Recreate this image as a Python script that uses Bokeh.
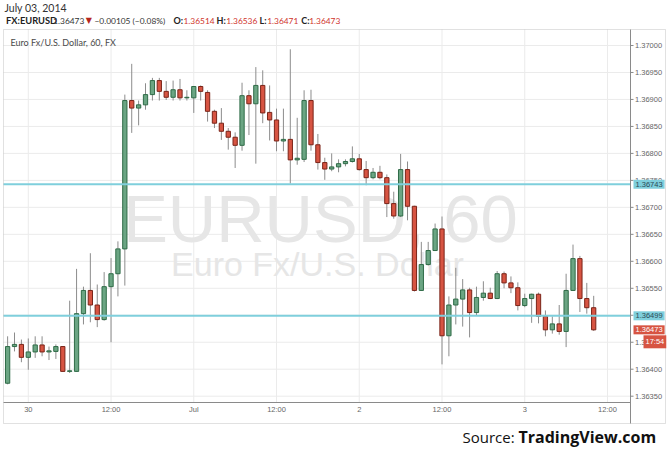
from bokeh.plotting import figure
from bokeh.models import Range1d, Label, BoxAnnotation, ColumnDataSource
from bokeh.core.properties import value
from bokeh.embed import file_html
from bokeh.resources import INLINE

# ---------------- data ----------------
hours = list(range(-3, 83))  # hours from Jun 30 00:00
opens = [1.36374, 1.36442, 1.36446, 1.36422, 1.36432, 1.36445, 1.36432, 1.36433, 1.36442, 1.36396,
         1.36396, 1.36503, 1.36546, 1.36519, 1.36492, 1.36553, 1.36577, 1.36623, 1.36898, 1.36884,
         1.36890, 1.36909, 1.36935, 1.36915, 1.36904, 1.36918, 1.36903, 1.36903, 1.36924, 1.36913,
         1.36878, 1.36856, 1.36841, 1.36830, 1.36815, 1.36907, 1.36892, 1.36926, 1.36876, 1.36862,
         1.36823, 1.36826, 1.36788, 1.36789, 1.36898, 1.36816, 1.36783, 1.36771, 1.36775, 1.36781,
         1.36785, 1.36790, 1.36770, 1.36755, 1.36765, 1.36755, 1.36707, 1.36684, 1.36770, 1.36702,
         1.36546, 1.36594, 1.36620, 1.36660, 1.36462, 1.36519, 1.36530, 1.36547, 1.36505, 1.36533,
         1.36541, 1.36531, 1.36577, 1.36560, 1.36551, 1.36518, 1.36531, 1.36539, 1.36498, 1.36473,
         1.36484, 1.36470, 1.36546, 1.36605, 1.36531, 1.36514]
highs = [1.36461, 1.36468, 1.36455, 1.36457, 1.36461, 1.36461, 1.36442, 1.36446, 1.36443, 1.36527,
         1.36586, 1.36553, 1.36615, 1.36557, 1.36580, 1.36606, 1.36637, 1.36909, 1.36966, 1.36898,
         1.36930, 1.36940, 1.36940, 1.36934, 1.36935, 1.36938, 1.36917, 1.36925, 1.36926, 1.36917,
         1.36881, 1.36884, 1.36847, 1.36839, 1.36931, 1.36917, 1.36960, 1.36954, 1.36926, 1.36883,
         1.36883, 1.36993, 1.36866, 1.36917, 1.36918, 1.36836, 1.36792, 1.36800, 1.36789, 1.36789,
         1.36813, 1.36799, 1.36786, 1.36773, 1.36777, 1.36761, 1.36729, 1.36799, 1.36785, 1.36703,
         1.36636, 1.36636, 1.36670, 1.36683, 1.36535, 1.36588, 1.36567, 1.36551, 1.36553, 1.36563,
         1.36551, 1.36582, 1.36581, 1.36572, 1.36561, 1.36540, 1.36540, 1.36542, 1.36509, 1.36498,
         1.36519, 1.36577, 1.36631, 1.36610, 1.36560, 1.36536]
lows = [1.36372, 1.36433, 1.36413, 1.36399, 1.36421, 1.36424, 1.36417, 1.36419, 1.36395, 1.36393,
        1.36395, 1.36483, 1.36487, 1.36478, 1.36490, 1.36450, 1.36535, 1.36555, 1.36838, 1.36852,
        1.36881, 1.36898, 1.36898, 1.36899, 1.36898, 1.36898, 1.36898, 1.36875, 1.36898, 1.36859,
        1.36847, 1.36825, 1.36807, 1.36773, 1.36805, 1.36834, 1.36781, 1.36856, 1.36824, 1.36804,
        1.36804, 1.36744, 1.36779, 1.36784, 1.36805, 1.36770, 1.36751, 1.36767, 1.36765, 1.36776,
        1.36783, 1.36768, 1.36741, 1.36752, 1.36752, 1.36682, 1.36679, 1.36682, 1.36676, 1.36544,
        1.36545, 1.36592, 1.36619, 1.36409, 1.36424, 1.36483, 1.36479, 1.36459, 1.36500, 1.36527,
        1.36530, 1.36530, 1.36550, 1.36541, 1.36509, 1.36515, 1.36486, 1.36485, 1.36461, 1.36466,
        1.36464, 1.36441, 1.36545, 1.36506, 1.36503, 1.36471]
closes = [1.36442, 1.36446, 1.36422, 1.36432, 1.36445, 1.36432, 1.36434, 1.36442, 1.36396, 1.36397,
          1.36503, 1.36546, 1.36519, 1.36492, 1.36553, 1.36577, 1.36623, 1.36898, 1.36884, 1.36890,
          1.36909, 1.36935, 1.36915, 1.36904, 1.36918, 1.36903, 1.36904, 1.36924, 1.36915, 1.36878,
          1.36856, 1.36841, 1.36830, 1.36815, 1.36907, 1.36892, 1.36926, 1.36875, 1.36862, 1.36823,
          1.36826, 1.36788, 1.36791, 1.36898, 1.36816, 1.36783, 1.36771, 1.36775, 1.36781, 1.36785,
          1.36790, 1.36770, 1.36755, 1.36765, 1.36755, 1.36707, 1.36684, 1.36770, 1.36702, 1.36546,
          1.36594, 1.36620, 1.36660, 1.36462, 1.36519, 1.36530, 1.36547, 1.36505, 1.36533, 1.36541,
          1.36531, 1.36577, 1.36560, 1.36551, 1.36518, 1.36531, 1.36539, 1.36498, 1.36473, 1.36484,
          1.36470, 1.36546, 1.36605, 1.36531, 1.36514, 1.36473]

x_tick_pos = [0, 12, 24, 36, 48, 60, 72, 84]
x_tick_labels = ["30", "12:00", "Jul", "12:00", "2", "12:00", "3", "12:00"]
y_ticks = [1.3635, 1.3640, 1.3645, 1.3650, 1.3655, 1.3660, 1.3665, 1.3670,
           1.3675, 1.3680, 1.3685, 1.3690, 1.3695, 1.3700]
level_hi = 1.36743
level_lo = 1.36499
last_close = 1.36473
countdown = "17:54"

hdr_date = "July 03, 2014"
hdr_symbol = "FX:EURUSD"
hdr_last = "1.36473"
hdr_change = "\u22120.00105 (\u22120.08%)"
hdr_o, hdr_h, hdr_l, hdr_c = "1.36514", "1.36536", "1.36471", "1.36473"
chart_title = "Euro Fx/U.S. Dollar, 60, FX"
wm_big = "EURUSD, 60"
wm_small = "Euro Fx/U.S. Dollar"
source_a = "Source:"
source_b = "TradingView.com"

# ---------------- layout helpers (page pixels -> data) ----------------
W, H = 670, 454
X0, DX = 27.8, 6.895          # page x of hour 0, pixels per hour
Y0, P0, K = 45.0, 1.37, 53953.0  # page y of 1.37000, pixels per price unit

def ix(px):
    return (px - X0) / DX

def py(pyv):
    return P0 - (pyv - Y0) / K

PL, PR, PT, PB = ix(3), ix(630), py(29), py(402)   # candle pane bounds

UP_FILL, UP_LINE = "#6ba583", "#2f6b47"
DN_FILL, DN_LINE = "#d75442", "#7a2418"
WICK = "#8c8c8c"
CYAN = "#7fcfdc"
GRID = "#ebebeb"
AXIS = "#8a8a8a"
TICKTXT = "#666666"

p = figure(width=W, height=H, output_backend="svg", toolbar_location=None,
           x_range=Range1d(ix(0), ix(W)), y_range=Range1d(py(H), py(0)),
           x_axis_location=None, y_axis_location=None,
           min_border=0, min_border_left=0, min_border_right=0,
           min_border_top=0, min_border_bottom=0)
p.outline_line_color = None
p.background_fill_color = "white"
p.border_fill_color = "white"
p.xgrid.visible = False
p.ygrid.visible = False

# grid lines inside the pane
p.segment(x0=x_tick_pos, x1=x_tick_pos, y0=[PB] * len(x_tick_pos), y1=[PT] * len(x_tick_pos),
          line_color=GRID, line_width=1)
p.segment(x0=[PL] * len(y_ticks), x1=[PR] * len(y_ticks), y0=y_ticks, y1=y_ticks,
          line_color=GRID, line_width=1)

# watermark
p.text(x=[ix(320)], y=[py(218)], text=[wm_big], text_font=value("Liberation Sans"),
       text_font_size="67px", text_color="#e6e6e6", text_align="center",
       text_baseline="alphabetic")
p.text(x=[ix(317)], y=[py(263)], text=[wm_small], text_font=value("Liberation Sans"),
       text_font_size="34px", text_color="#e6e6e6", text_align="center",
       text_baseline="alphabetic")

# candles
up = [c >= o for o, c in zip(opens, closes)]
src = ColumnDataSource(dict(
    x=hours, high=highs, low=lows,
    top=[max(o, c) for o, c in zip(opens, closes)],
    bottom=[min(o, c) for o, c in zip(opens, closes)],
    fill=[UP_FILL if u else DN_FILL for u in up],
    line=[UP_LINE if u else DN_LINE for u in up],
))
p.segment(x0="x", y0="high", x1="x", y1="low", source=src, line_color=WICK, line_width=1)
p.vbar(x="x", width=0.62, top="top", bottom="bottom", source=src,
       fill_color="fill", line_color="line", line_width=1)

# horizontal levels
p.segment(x0=[PL, PL], x1=[PR, PR], y0=[level_hi, level_lo], y1=[level_hi, level_lo],
          line_color=CYAN, line_width=2)

# axes (drawn on the library's scales)
p.segment(x0=[PL], x1=[PR], y0=[PB], y1=[PB], line_color=AXIS, line_width=1)
p.segment(x0=[PR], x1=[PR], y0=[py(423)], y1=[PT], line_color=AXIS, line_width=1)
p.segment(x0=[PR] * len(y_ticks), x1=[ix(633)] * len(y_ticks), y0=y_ticks, y1=y_ticks,
          line_color=AXIS, line_width=1)
p.text(x=[ix(634.5)] * len(y_ticks), y=y_ticks, text=[f"{t:.5f}" for t in y_ticks],
       text_font=value("Liberation Sans"), text_font_size="7.5px", text_color=TICKTXT,
       text_align="left", text_baseline="middle")
p.text(x=x_tick_pos, y=[py(409)] * len(x_tick_pos), text=x_tick_labels,
       text_font=value("Liberation Sans"), text_font_size="7.5px", text_color=TICKTXT,
       text_align="center", text_baseline="middle")

# outer chart box
p.add_layout(BoxAnnotation(left=3, right=665, bottom=H - 423, top=H - 29,
                           left_units="screen", right_units="screen",
                           bottom_units="screen", top_units="screen",
                           fill_alpha=0, line_color="#9a9a9a", line_width=1))

def lab(x, y, text, size, color="#333333", bold=False, font="Lato", y_units="screen", **kw):
    l = Label(x=x, y=y, x_units="screen", y_units=y_units, text=text,
              text_font=font, text_font_size=size, text_color=color,
              text_font_style="bold" if bold else "normal",
              text_baseline="middle", **kw)
    p.add_layout(l)
    return l

RED = "#d0342c"
NUM = "8.4px"
# header
lab(4, H - 7, hdr_date, "10.5px", "#333333")
lab(5.5, H - 20, hdr_symbol, "9.3px", "#222222", bold=True)
lab(52.7, H - 20, hdr_last, NUM, "#333333")
lab(85.2, H - 20, "\u25bc", "8px", "#b5261e", font="DejaVu Sans")
lab(94, H - 20, hdr_change, NUM, "#333333")
lab(173, H - 20, "O:", "9px", "#222222", bold=True)
lab(183, H - 20, hdr_o, NUM, RED)
lab(216, H - 20, "H:", "9px", "#222222", bold=True)
lab(225.7, H - 20, hdr_h, NUM, RED)
lab(259, H - 20, "L:", "9px", "#222222", bold=True)
lab(266.7, H - 20, hdr_l, NUM, RED)
lab(300.7, H - 20, "C:", "9px", "#222222", bold=True)
lab(308.7, H - 20, hdr_c, NUM, RED)

# chart title
lab(10, H - 41.7, chart_title, "9px", "#4a4a4a")

# price tags on the axis
lab(633, level_hi, f"{level_hi:.5f}", "7.5px", "#2b4a55", font="Liberation Sans",
    y_units="data", background_fill_color=CYAN, padding=2)
lab(633, level_lo, f"{level_lo:.5f}", "7.5px", "#2b4a55", font="Liberation Sans",
    y_units="data", background_fill_color=CYAN, padding=2)
lab(633, last_close, f"{last_close:.5f}", "7.5px", "white", font="Liberation Sans",
    y_units="data", background_fill_color=DN_FILL, padding=2)
lab(643, H - 341.3, countdown, "7.5px", "white", font="Liberation Sans",
    background_fill_color=DN_FILL, padding=2)

# source
lab(462, H - 436, source_a, "15px", "#111111", font="Open Sans")
lab(518, H - 436, source_b, "16px", "#111111", bold=True, font="Open Sans")

open("out.html", "w").write(file_html(p, INLINE))
